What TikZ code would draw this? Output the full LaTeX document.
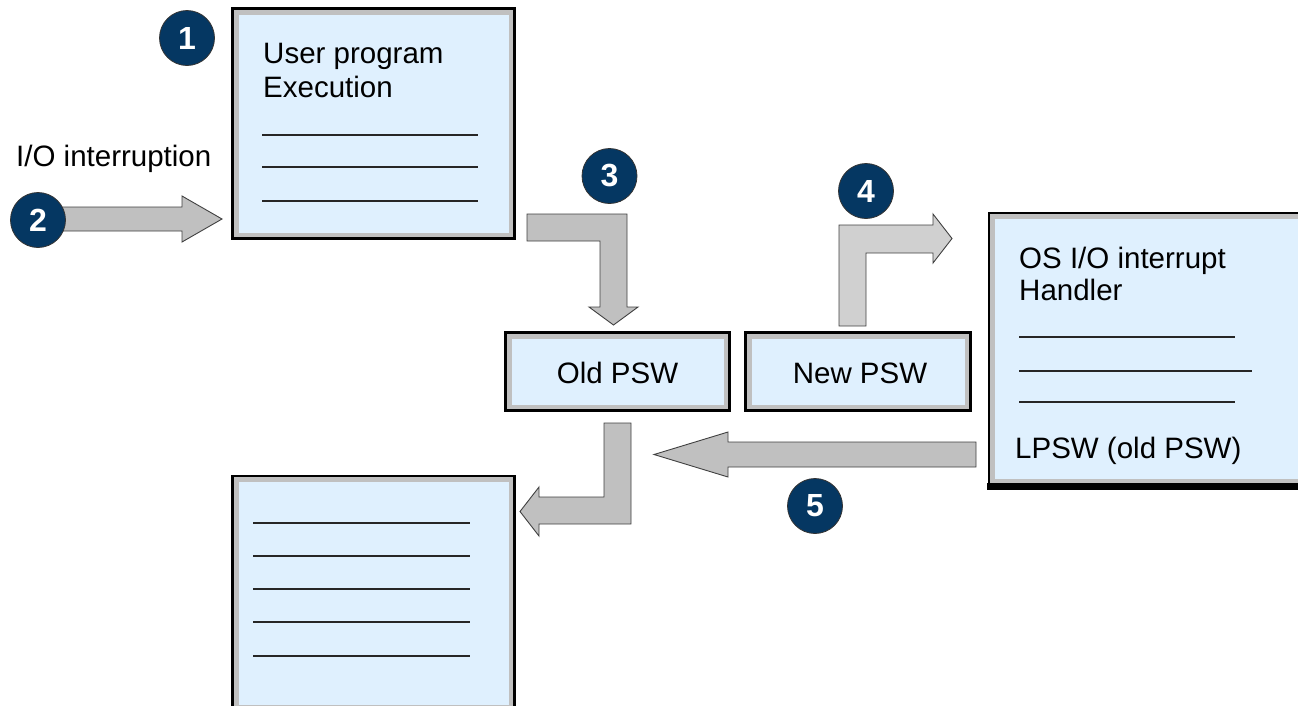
\documentclass[tikz,border=0pt]{standalone}
\usepackage{fontspec}
\setmainfont{Liberation Sans}
\definecolor{boxblue}{HTML}{DFF0FE}
\definecolor{framegrey}{HTML}{C0C0C0}
\definecolor{arrowgrey}{HTML}{C0C0C0}
\definecolor{arrowlight}{HTML}{D0D0D0}
\definecolor{badgeblue}{HTML}{053762}
\tikzset{
  panel/.style={draw=black, line width=2.4pt, fill=framegrey, inner sep=0pt,
    path picture={\fill[boxblue]
      ([shift={(6pt,-6pt)}]path picture bounding box.north west) rectangle
      ([shift={(-6pt,6pt)}]path picture bounding box.south east);}},
  label/.style={anchor=base west, inner sep=0pt, font=\fontsize{29.5}{34}\selectfont},
  clabel/.style={anchor=base, inner sep=0pt, font=\fontsize{29.5}{34}\selectfont},
  rule/.style={line width=2.2pt, draw=black!85},
  blockarrow/.style={fill=arrowgrey, draw=black!75, line width=0.9pt, line join=miter},
  badge/.style={circle, fill=badgeblue, draw=black!80, line width=0.8pt,
    minimum size=55pt, inner sep=0pt, text=white,
    font=\fontsize{32}{32}\selectfont\bfseries}
}
\begin{document}
\begin{tikzpicture}[x=1pt, y=-1pt]
\useasboundingbox (0,0) rectangle (1298,705);

% boxes
\node[panel, minimum width=282pt, minimum height=230pt] (user) at (373.5,123.5) {};
\node[panel, minimum width=224pt, minimum height=78pt] (oldpsw) at (617.5,371.5) {};
\node[panel, minimum width=225pt, minimum height=78pt] (newpsw) at (858,371.5) {};
\node[panel, minimum width=318pt, minimum height=272pt] (handler) at (1148,349) {};
% heavier lower edge of the handler box
\fill[black] ([shift={(-1.2pt,-3.5pt)}]handler.south west) rectangle ([yshift=3pt]handler.south east);
\node[panel, minimum width=282pt, minimum height=235pt] (resume) at (373.5,593.5) {};

% texts of the user program
\node[label] (t1) at (263,63) {User program};
\node[label] (t2) at (263,97) {Execution};
\foreach \y in {135,167,201} \draw[rule] (262,\y) -- (478,\y);

\node[label] (io) at (16,166) {I/O interruption};

% PSW labels
\node[clabel] (oldt) at (oldpsw.center |- 0,383) {Old PSW};
\node[clabel] (newt) at (860,383) {New PSW};

% interrupt handler texts
\node[label] (h1) at (1019,268) {OS I/O interrupt};
\node[label] (h2) at (1019,300) {Handler};
\draw[rule] (1019,337) -- (1235,337);
\draw[rule] (1019,371) -- (1252,371);
\draw[rule] (1019,402) -- (1235,402);
\node[label] (lpsw) at (1015,458) {LPSW (old PSW)};

% resumed program lines
\foreach \y in {523,556,589,622,656} \draw[rule] (253,\y) -- (470,\y);

% block arrows
\draw[blockarrow] (60,207) -- (182,207) -- (182,196) -- (222,219) -- (182,242)
  -- (182,231) -- (60,231) -- cycle;
\draw[blockarrow] (527,214) -- (627,214) -- (627,307) -- (638,307) -- (613.5,325)
  -- (589,307) -- (600,307) -- (600,241) -- (527,241) -- cycle;
\draw[blockarrow, fill=arrowlight] (839,326) -- (839,225) -- (933,225) -- (933,214)
  -- (952,238.5) -- (933,263) -- (933,253) -- (866,253) -- (866,326) -- cycle;
\draw[blockarrow] (976,442) -- (728,442) -- (728,432) -- (654,454.5) -- (728,477)
  -- (728,467) -- (976,467) -- cycle;
\draw[blockarrow] (604,423) -- (631,423) -- (631,524) -- (539,524) -- (539,536)
  -- (520,511.5) -- (539,487) -- (539,497) -- (604,497) -- cycle;

% step badges
\node[badge] (b1) at (187,38) {1};
\node[badge] (b2) at (38,220) {2};
\node[badge] (b3) at (609.5,176) {3};
\node[badge] (b4) at (866,191) {4};
\node[badge] (b5) at (815,506) {5};
\end{tikzpicture}
\end{document}
